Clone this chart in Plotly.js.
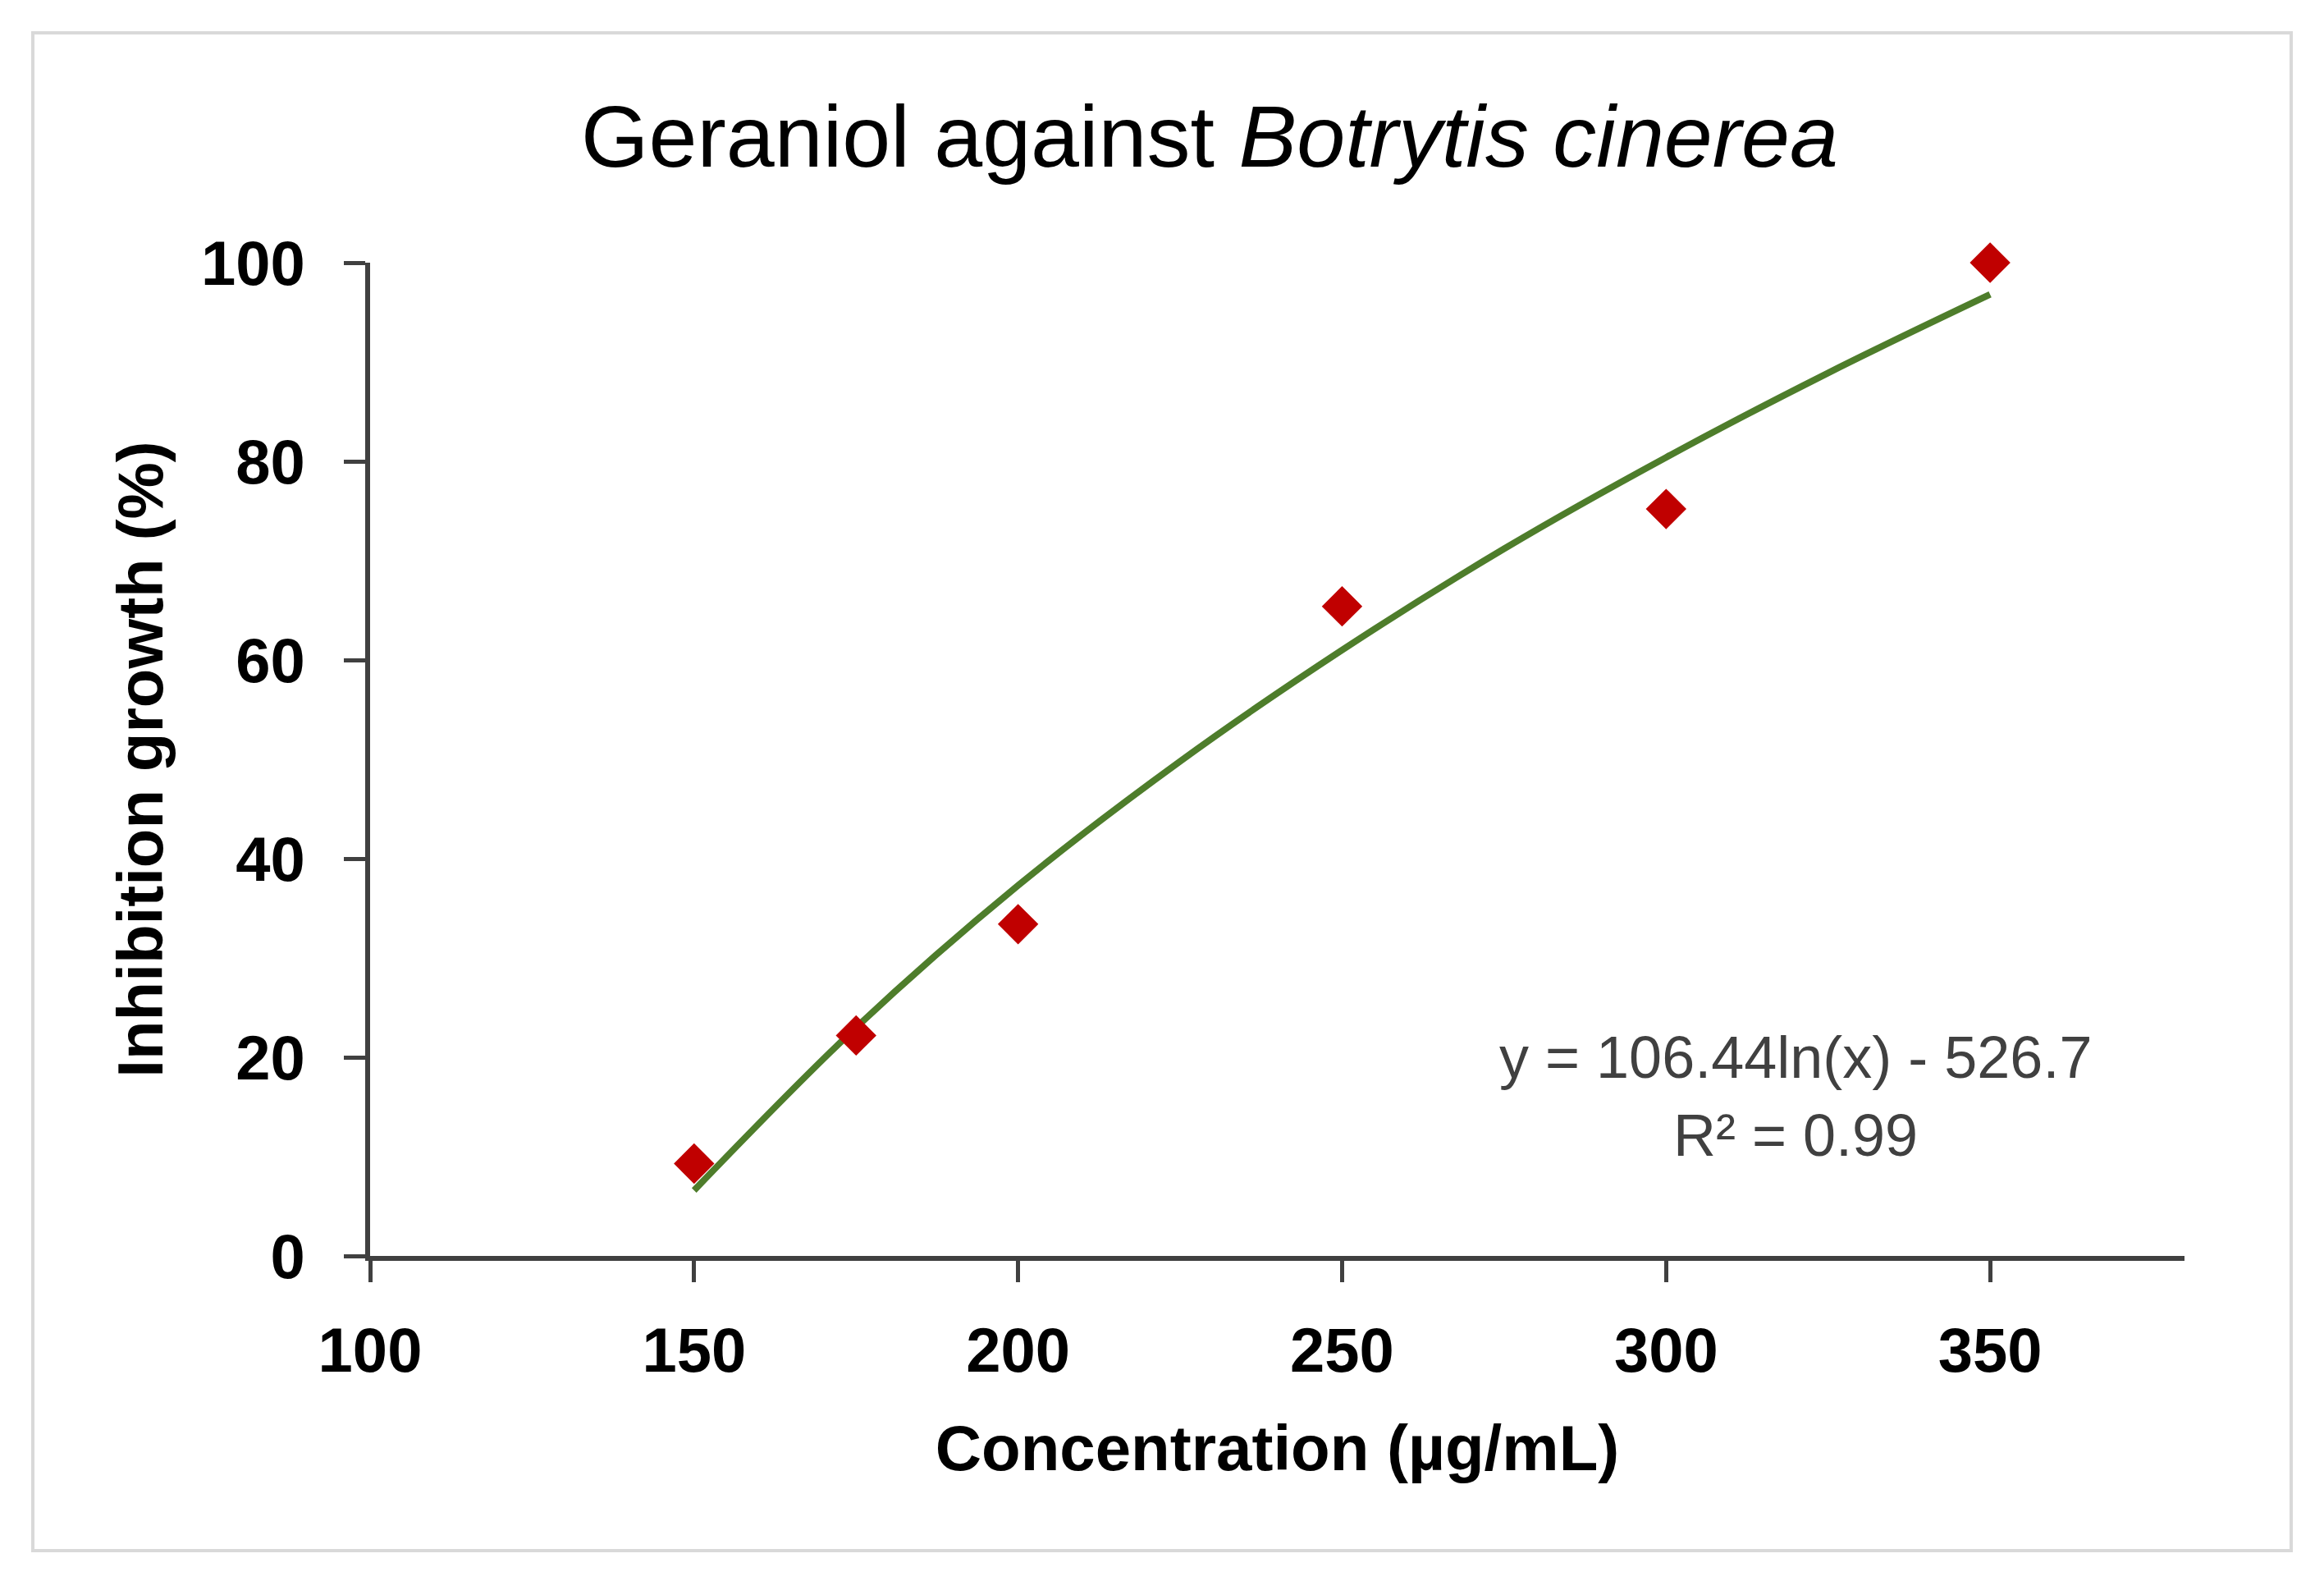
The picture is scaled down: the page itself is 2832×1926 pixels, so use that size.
<!DOCTYPE html>
<html>
<head>
<meta charset="utf-8">
<script src="https://cdn.plot.ly/plotly-3.0.1.min.js"></script>
<style>
  html, body { margin: 0; padding: 0; background: #fff; }
  #chart { width: 2832px; height: 1926px; }
</style>
</head>
<body>
<div id="chart"></div>
<script>
// measured points (concentration vs inhibition %)
const concentration = [150, 175, 200, 250, 300, 350];
const inhibition = [9.3, 22.2, 33.4, 65.4, 75.2, 100];

// trend curve
const trendX = [150, 175, 200, 225, 250, 275, 300, 325, 350];
const trendY = [6.6, 23.0, 37.3, 49.8, 61.0, 71.2, 80.4, 88.9, 96.8];

const xTicks = [100, 150, 200, 250, 300, 350];
const yTicks = [0, 20, 40, 60, 80, 100];

const font = "Liberation Sans, Arial, sans-serif";
const axisColor = "#404040";

const traces = [
  {
    x: trendX,
    y: trendY,
    type: 'scatter',
    mode: 'lines',
    line: { color: '#4E7D2B', width: 8, shape: 'spline', smoothing: 1 },
    hoverinfo: 'skip'
  },
  {
    x: concentration,
    y: inhibition,
    type: 'scatter',
    mode: 'markers',
    cliponaxis: false,
    marker: { symbol: 'diamond', size: 38, color: '#C00000' }
  }
];

const layout = {
  width: 2832,
  height: 1926,
  showlegend: false,
  paper_bgcolor: '#ffffff',
  plot_bgcolor: '#ffffff',
  margin: { l: 451, r: 170, t: 320, b: 396 },
  font: { family: font, color: '#000' },
  title: {
    text: 'Geraniol against <i>Botrytis cinerea</i>',
    font: { family: font, size: 106, color: '#000' },
    xref: 'container', yref: 'container',
    x: 0.5205, y: 0.9138, xanchor: 'center', yanchor: 'middle'
  },
  xaxis: {
    range: [100, 380],
    tickvals: xTicks,
    ticktext: xTicks.map(String),
    showgrid: false,
    zeroline: false,
    showline: true,
    linecolor: axisColor,
    linewidth: 6,
    ticks: 'outside',
    ticklen: 26,
    tickwidth: 5,
    tickcolor: axisColor,
    ticklabelstandoff: 18,
    tickfont: { family: font, size: 76, color: '#000', weight: 'bold' },
    title: {
      text: '<b>Concentration (µg/mL)</b>',
      font: { family: font, size: 78, color: '#000' },
      standoff: 52
    }
  },
  yaxis: {
    range: [0, 100],
    tickvals: yTicks,
    ticktext: yTicks.map(String),
    showgrid: false,
    zeroline: false,
    showline: true,
    linecolor: axisColor,
    linewidth: 6,
    ticks: 'outside',
    ticklen: 26,
    tickwidth: 5,
    tickcolor: axisColor,
    ticklabelstandoff: 32,
    tickfont: { family: font, size: 76, color: '#000', weight: 'bold' },
    title: {
      text: '<b>Inhibition growth (%)</b>',
      font: { family: font, size: 78, color: '#000' },
      standoff: 23
    }
  },
  annotations: [
    {
      x: 320, y: 20.0, xref: 'x', yref: 'y',
      text: 'y = 106.44ln(x) - 526.7',
      showarrow: false,
      font: { family: font, size: 72, color: '#404040' },
      xanchor: 'center', yanchor: 'middle'
    },
    {
      x: 320, y: 12.15, xref: 'x', yref: 'y',
      text: 'R² = 0.99',
      showarrow: false,
      font: { family: font, size: 72, color: '#404040' },
      xanchor: 'center', yanchor: 'middle'
    }
  ],
  shapes: [
    {
      type: 'rect', xref: 'paper', yref: 'paper',
      x0: -0.1859, x1: 1.0588, y0: -0.2967, y1: 1.2314,
      line: { color: '#D9D9D9', width: 4 },
      fillcolor: 'rgba(0,0,0,0)',
      layer: 'below'
    }
  ]
};

Plotly.newPlot('chart', traces, layout, { staticPlot: true });
</script>
</body>
</html>
